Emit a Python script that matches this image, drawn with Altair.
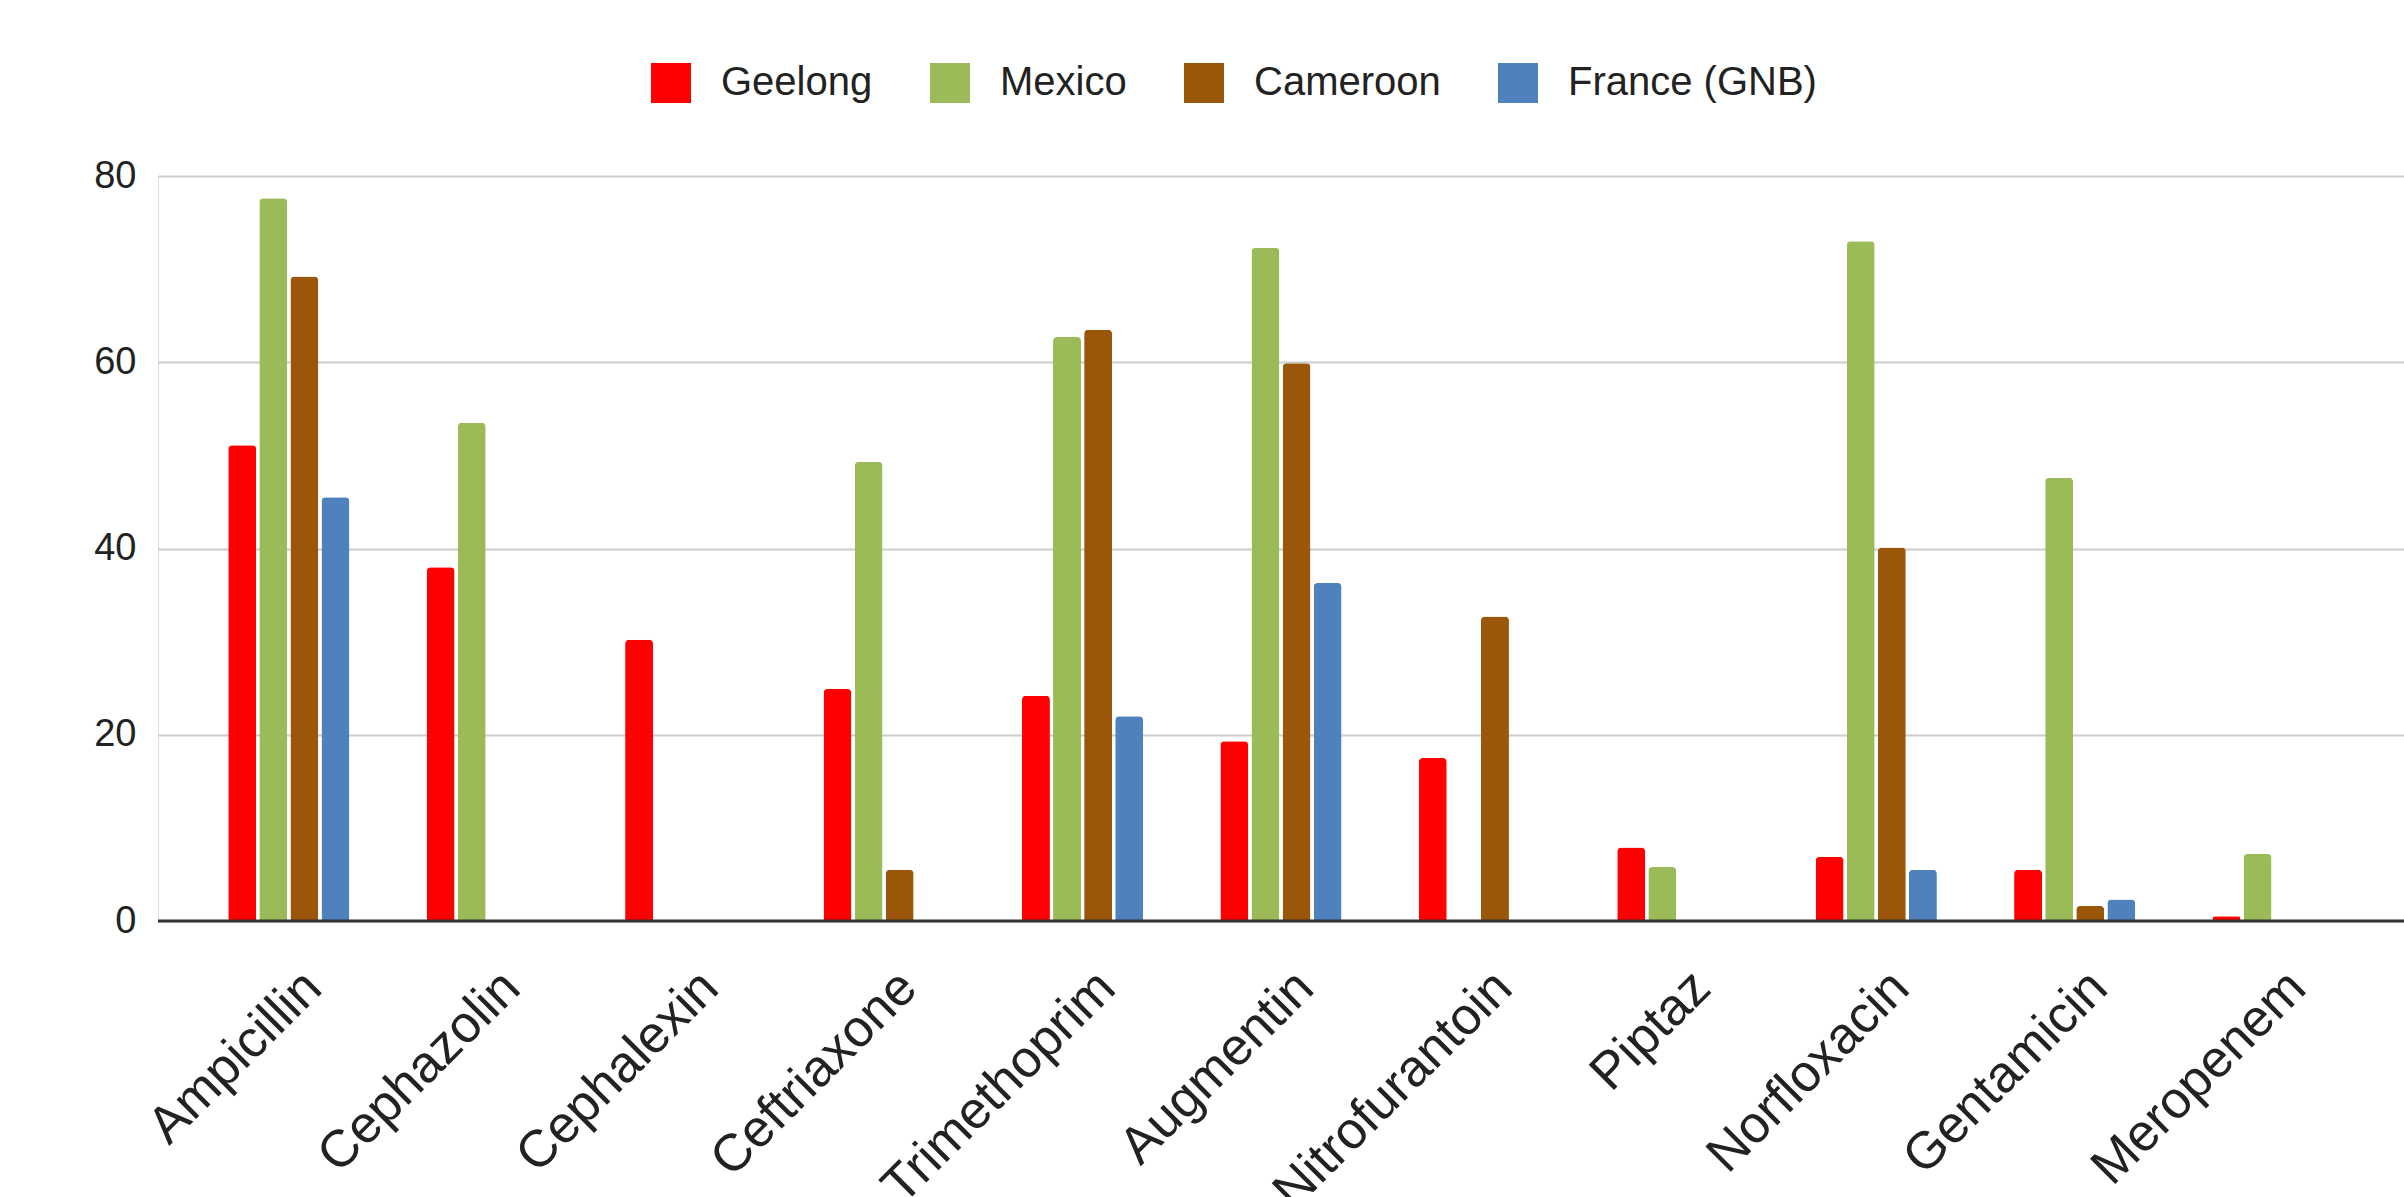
import altair as alt
import pandas as pd

drugs = ["Ampicillin", "Cephazolin", "Cephalexin", "Ceftriaxone", "Trimethoprim",
         "Augmentin", "Nitrofurantoin", "Piptaz", "Norfloxacin", "Gentamicin", "Meropenem"]
series = ["Geelong", "Mexico", "Cameroon", "France (GNB)"]
colors = ["#ff0000", "#9bbb59", "#9a5709", "#4f81bd"]

geelong = [51.1, 38.0, 30.2, 24.9, 24.2, 19.3, 17.5, 7.9, 6.9, 5.5, 0.5]
mexico = [77.6, 53.5, None, 49.3, 62.7, 72.3, None, 5.8, 73.0, 47.6, 7.2]
cameroon = [69.2, None, None, 5.5, 63.5, 59.9, 32.7, None, 40.1, 1.6, None]
france = [45.5, None, None, None, 22.0, 36.3, None, None, 5.5, 2.3, None]

y_ticks = [0, 20, 40, 60, 80]

rows = []
for name, vals in zip(series, [geelong, mexico, cameroon, france]):
    for d, v in zip(drugs, vals):
        if v is not None:
            rows.append({"drug": d, "series": name, "value": v})
df = pd.DataFrame(rows)

FONT = "Liberation Sans"

bars = alt.Chart(df).mark_bar(cornerRadiusTopLeft=4, cornerRadiusTopRight=4).encode(
    x=alt.X("drug:N", sort=drugs,
            scale=alt.Scale(domain=drugs, paddingInner=0.389, paddingOuter=0.354),
            axis=alt.Axis(title=None, labelAngle=315, labelAlign="right", labelBaseline="middle",
                          labelFontSize=52, labelPadding=58, labelOffset=24, ticks=False,
                          tickSize=0, domain=False, grid=False, labelFont=FONT,
                          labelColor="#222222", labelLimit=0, labelOverlap=False)),
    xOffset=alt.XOffset("series:N", scale=alt.Scale(domain=series, paddingInner=0.1, paddingOuter=0)),
    y=alt.Y("value:Q", scale=alt.Scale(domain=[0, 80], nice=False),
            axis=alt.Axis(values=y_ticks, title=None, grid=True, gridColor="#cccccc", gridWidth=2,
                          domain=False, ticks=False, labelFontSize=38, labelPadding=22,
                          labelFont=FONT, labelColor="#222222")),
    color=alt.Color("series:N", scale=alt.Scale(domain=series, range=colors),
                    legend=alt.Legend(title=None, orient="none", direction="horizontal",
                                      legendX=493, legendY=-113, symbolType="square",
                                      symbolSize=1600, symbolStrokeWidth=0, labelFontSize=40,
                                      labelFont=FONT, labelColor="#222222", labelOffset=30,
                                      labelLimit=0, columnPadding=57, symbolOpacity=1)),
)

base_line = alt.Chart(pd.DataFrame({"v": [0]})).mark_rule(color="#333333", strokeWidth=3).encode(
    y=alt.Y("v:Q")
)

chart = alt.layer(bars, base_line).properties(
    width=2246, height=745,
    padding={"left": 158, "top": 176, "right": 0, "bottom": 276},
    autosize=alt.AutoSizeParams(type="none"),
).configure_view(stroke=None).configure(background="white")

chart.save("out.html", embed_options={"renderer": "svg", "actions": False})
